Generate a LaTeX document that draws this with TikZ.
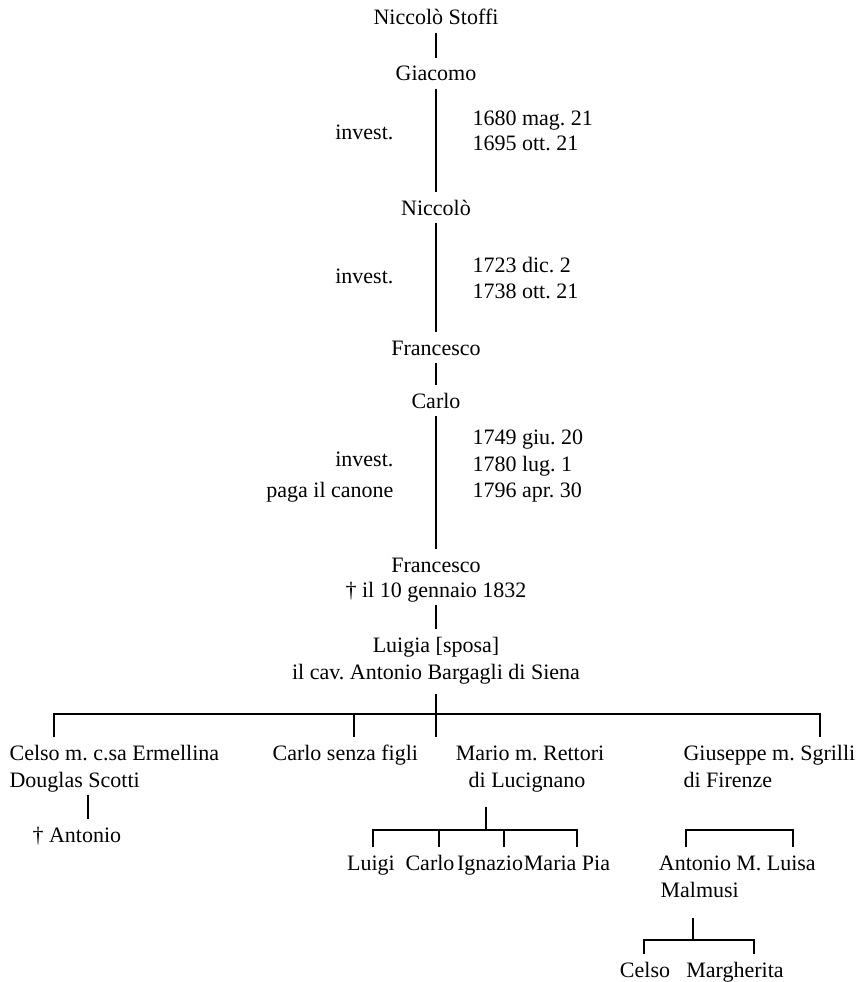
\documentclass[tikz,border=0pt]{standalone}
\usepackage{fontspec}
\setmainfont{Liberation Serif}
\frenchspacing
\begin{document}
\frenchspacing
\begin{tikzpicture}[x=1pt,y=-1pt,line width=1.2pt,
  t/.style={font=\fontsize{22}{26}\selectfont, inner xsep=0pt, inner ysep=7pt, text height=15pt, text depth=0pt, anchor=base},
  tl/.style={t, anchor=base west},
  tr/.style={t, anchor=base east}]
\useasboundingbox (0,0) rectangle (867,982);

% main line
\node[t] (n1) at (436,25) {Niccolò Stoffi};
\node[t] (n2) at (436,81) {Giacomo};
\node[tr] (i1) at (394,139) {invest.};
\node[tl] (d1a) at (472,125) {1680 mag. 21};
\node[tl] (d1b) at (472,150) {1695 ott. 21};
\node[t] (n3) at (436,215) {Niccolò};
\node[tr] (i2) at (394,283) {invest.};
\node[tl] (d2a) at (472,272) {1723 dic. 2};
\node[tl] (d2b) at (472,298) {1738 ott. 21};
\node[t] (n4) at (436,355) {Francesco};
\node[t] (n5) at (436,408) {Carlo};
\node[tr] (i3) at (394,466) {invest.};
\node[tr] (p3) at (394,497) {paga il canone};
\node[tl] (d3a) at (472,444) {1749 giu. 20};
\node[tl] (d3b) at (472,471) {1780 lug. 1};
\node[tl] (d3c) at (472,497) {1796 apr. 30};
\node[t] (n6) at (436,572) {Francesco};
\node[t] (n6b) at (436,597) {† il 10 gennaio 1832};
\node[t] (n7) at (436,652) {Luigia [sposa]};
\node[t] (n7b) at (436,679) {il cav. Antonio Bargagli di Siena};

\draw (n1.south) -- (n2.north);
\draw (n2.south) -- (n3.north);
\draw (n3.south) -- (n4.north);
\draw (n4.south) -- (n5.north);
\draw (n5.south) -- (n6.north) ++(0,-3);
\draw (n6b.south) -- (n7.north);

% children of Luigia
\node[tl] (c1) at (9,760) {Celso m. c.sa Ermellina};
\node[tl] (c1b) at (9,787) {Douglas Scotti};
\node[tl] (c2) at (272,760) {Carlo senza figli};
\node[t] (c3) at (530,760) {Mario m. Rettori};
\node[t] (c3b) at (527,787) {di Lucignano};
\node[tl] (c4) at (683,760) {Giuseppe m. Sgrilli};
\node[tl] (c4b) at (683,787) {di Firenze};

\coordinate (bL) at (54,714);
\coordinate (bC) at (354,714);
\coordinate (bR) at (820,714);
\draw (n7b.south) ++(0,7) -- (n7b.south |- c3.north);
\draw (c1.north -| bL) -- (bL) -- (bR) -- (c4.north -| bR);
\draw (bC) -- (c2.north -| bC);

% Celso's son
\node[tl] (a1) at (32,842) {† Antonio};
\coordinate (aT) at (88,795);
\draw (c1b.south -| aT) -- (a1.north -| aT);

% Mario's children
\node[t] (m1) at (371,870) {Luigi};
\node[t] (m2) at (430,870) {Carlo};
\node[t] (m3) at (490,870) {Ignazio};
\node[t] (m4) at (567,870) {Maria Pia};
\coordinate (mTop) at (486,830);
\coordinate (mL) at (373,830);
\coordinate (m2d) at (439,830);
\coordinate (m3d) at (504,830);
\coordinate (mR) at (577,830);
\draw (c3b.south -| mTop) ++(0,12) -- (mTop);
\draw (m1.north -| mL) -- (mL) -- (mR) -- (m4.north -| mR);
\draw (m2d) -- (m2.north -| m2d);
\draw (m3d) -- (m3.north -| m3d);

% Giuseppe's children
\node[t] (g1) at (695,870) {Antonio};
\node[t] (g2) at (776,870) {M. Luisa};
\node[tl] (g1b) at (660,897) {Malmusi};
\coordinate (gL) at (686,830);
\coordinate (gR) at (793,830);
\draw (g1.north -| gL) -- (gL) -- (gR) -- (g2.north -| gR);

% Antonio's children
\node[t] (k1) at (645,977) {Celso};
\node[t] (k2) at (735,977) {Margherita};
\coordinate (kTop) at (693,940);
\coordinate (kL) at (644,940);
\coordinate (kR) at (754,940);
\draw (g1b.south -| kTop) ++(0,13) -- (kTop);
\draw (k1.north -| kL) -- (kL) -- (kR) -- (k2.north -| kR);
\end{tikzpicture}
\end{document}
